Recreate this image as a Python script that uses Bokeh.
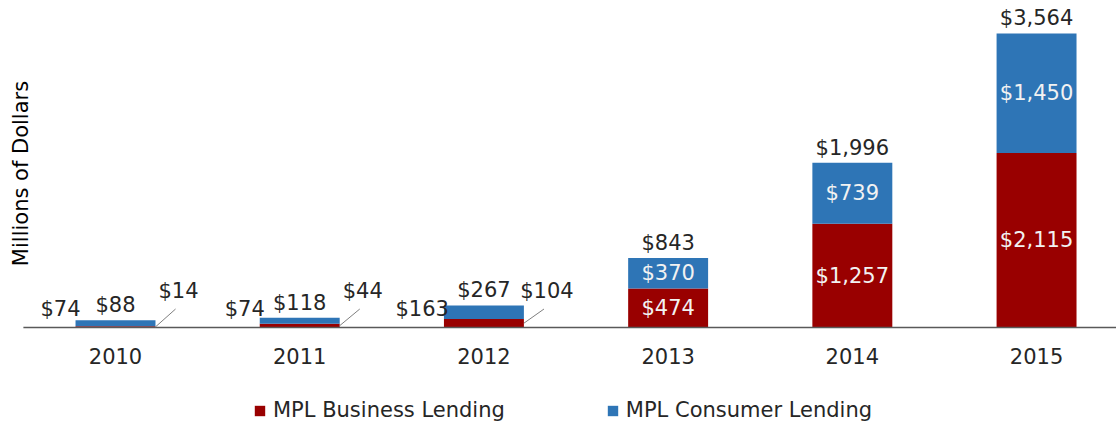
from bokeh.plotting import figure
from bokeh.models import ColumnDataSource, Range1d, Legend
from bokeh.core.properties import value
from bokeh.embed import file_html
from bokeh.resources import INLINE
import math

years = ["2010", "2011", "2012", "2013", "2014", "2015"]
business = [14, 44, 104, 474, 1257, 2115]
consumer = [74, 74, 163, 370, 739, 1450]
totals = [88, 118, 267, 843, 1996, 3564]
series_names = ["MPL Business Lending", "MPL Consumer Lending"]
y_title = "Millions of Dollars"

BIZ = "#990000"
CON = "#2E75B6"
TXT = "#262626"
FONT = "DejaVu Sans"
FS = "21px"
BAR_W = 0.434
INSIDE_MIN = 500        # stacks taller than this carry their labels inside
LEAD_DX = 0.109         # leader line run (x units)
LEAD_RISE = 224         # leader line end height (y units)
X0, X1 = -0.6243, 5.434
Y0, Y1 = -1188, 3964

def money(v):
    return "$" + format(v, ",")

xs = list(range(len(years)))
src = ColumnDataSource(dict(x=xs, business=business, consumer=consumer))

p = figure(width=1116, height=425, output_backend="svg", toolbar_location=None,
           x_range=Range1d(X0, X1), y_range=Range1d(Y0, Y1),
           min_border=0, outline_line_color=None)
p.axis.visible = False
p.grid.visible = False

r = p.vbar_stack(["business", "consumer"], x="x", width=BAR_W, color=[BIZ, CON],
                 line_color=None, source=src)

# baseline (category axis line)
p.segment(x0=[xs[0] - 0.5], y0=[0], x1=[xs[-1] + 0.5], y1=[0],
          line_color="#595959", line_width=1.3)

# category labels
p.text(x=xs, y=[0] * len(xs), text=years, text_align="center",
       text_baseline="middle", y_offset=29, text_font=value(FONT),
       text_font_size=FS, text_color=TXT)

# y title
p.text(x=[X0], y=[max(totals) / 2], text=[y_title], angle=math.pi / 2,
       text_align="center", text_baseline="middle", x_offset=20, y_offset=-7,
       text_font=value(FONT), text_font_size=FS, text_color="#000000")

# totals above stacks
tot_src = ColumnDataSource(dict(x=xs, y=[b + c for b, c in zip(business, consumer)],
                                t=[money(v) for v in totals]))
p.text(x="x", y="y", text="t", source=tot_src, text_align="center",
       text_baseline="middle", y_offset=-15, text_font=value(FONT),
       text_font_size=FS, text_color=TXT)

# inside labels for tall stacks
ix = [i for i in xs if business[i] + consumer[i] > INSIDE_MIN]
in_src = ColumnDataSource(dict(
    x=ix + ix,
    y=[business[i] / 2 for i in ix] + [business[i] + consumer[i] / 2 for i in ix],
    t=[money(business[i]) for i in ix] + [money(consumer[i]) for i in ix]))
p.text(x="x", y="y", text="t", source=in_src, text_align="center",
       text_baseline="middle", text_font=value(FONT), text_font_size=FS,
       text_color="#F2F2F2")

# outside labels for short stacks
ox = [i for i in xs if business[i] + consumer[i] <= INSIDE_MIN]
left_src = ColumnDataSource(dict(x=[i - BAR_W / 2 for i in ox], y=[0 for i in ox],
                                 t=[money(consumer[i]) for i in ox]))
p.text(x="x", y="y", text="t", source=left_src, text_align="right",
       text_baseline="middle", x_offset=5, y_offset=-18, text_font=value(FONT),
       text_font_size=FS, text_color=TXT)

lead_src = ColumnDataSource(dict(
    x0=[i + BAR_W / 2 for i in ox], y0=[business[i] / 2 for i in ox],
    x1=[i + BAR_W / 2 + LEAD_DX for i in ox], y1=[LEAD_RISE for i in ox],
    t=[money(business[i]) for i in ox]))
p.segment(x0="x0", y0="y0", x1="x1", y1="y1", source=lead_src,
          line_color="#7F7F7F", line_width=1)
p.text(x="x1", y="y1", text="t", source=lead_src, text_align="center",
       text_baseline="middle", x_offset=3, y_offset=-18, text_font=value(FONT),
       text_font_size=FS, text_color=TXT)

legend = Legend(items=[(series_names[0], [r[0]]), (series_names[1], [r[1]])],
                orientation="horizontal", location=(253, 3),
                glyph_width=13, glyph_height=13, label_standoff=7, spacing=101,
                label_text_font=FONT, label_text_font_size=FS,
                label_text_color=TXT, border_line_color=None,
                background_fill_alpha=0, padding=0, margin=0)
p.add_layout(legend)

open("out.html", "w").write(file_html(p, INLINE))
